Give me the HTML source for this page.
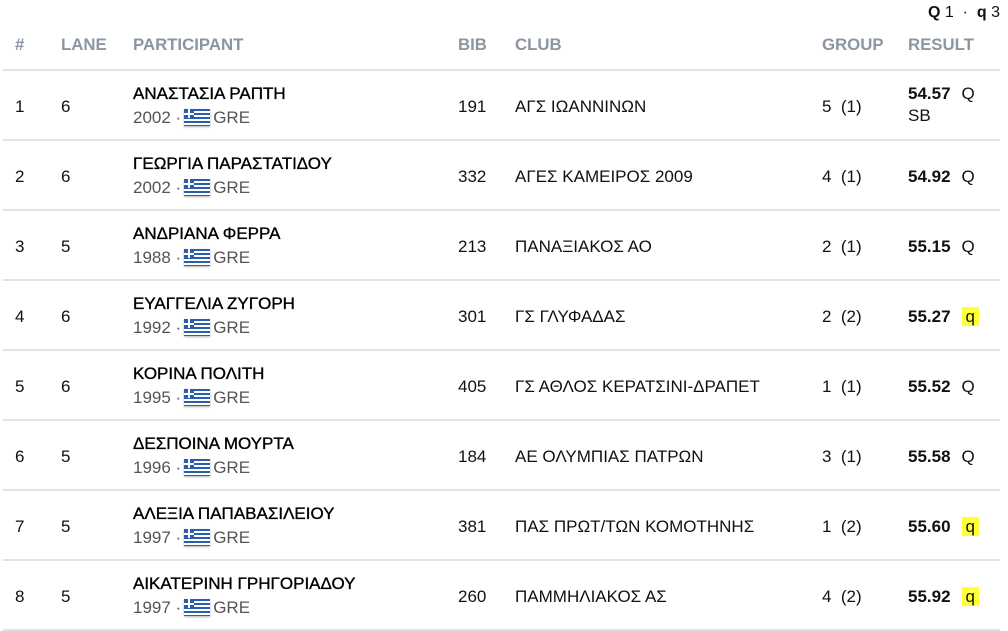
<!DOCTYPE html>
<html><head><meta charset="utf-8"><style>
body{margin:0;width:1008px;height:630px;background:#fff;font-family:"Liberation Sans",sans-serif;overflow:hidden;position:relative;color:#111}
.a{position:absolute;white-space:nowrap;line-height:20px}
.h{color:#8a96a2;font-weight:bold;font-size:16.8px;top:35px}
.l{position:absolute;left:3px;width:997px;height:2px;background:#e2e2e2}
.c{font-size:17px}
.n{font-size:17px;color:#000;-webkit-text-stroke:0.35px #000}
.s{color:#555;font-size:17px}
.f{display:inline-block;width:26px;height:17px;vertical-align:-3px;margin:0 3px;background:repeating-linear-gradient(#2a5db0 0 2px,#fff 2px 4px);position:relative;box-shadow:0 1px 2px rgba(0,0,0,.3)}
.f:before{content:"";position:absolute;left:0;top:0;width:10px;height:9px;background:#2a5db0}
.f:after{content:"";position:absolute;left:0;top:4px;width:10px;height:2px;background:#fff}
.f i{position:absolute;left:4px;top:0;width:2px;height:9px;background:#fff}
.b{font-weight:bold}
.y{background:#ffff3a;padding:0 4px}
.m{margin-left:11px}
</style></head><body>
<div class="a" style="right:8px;top:3px;font-size:16px"><b>Q</b> 1 &nbsp;·&nbsp; <b>q</b> 3</div>
<div class="a h" style="left:15px">#</div>
<div class="a h" style="left:61px">LANE</div>
<div class="a h" style="left:133px">PARTICIPANT</div>
<div class="a h" style="left:458px">BIB</div>
<div class="a h" style="left:515px">CLUB</div>
<div class="a h" style="left:822px">GROUP</div>
<div class="a h" style="left:908px">RESULT</div>
<div class="l" style="top:69px"></div>
<div id="rows"></div>
<script>
const d=[["1","6","ΑΝΑΣΤΑΣΙΑ ΡΑΠΤΗ","2002","191","ΑΓΣ ΙΩΑΝΝΙΝΩΝ","5","1","54.57","Q"],
["2","6","ΓΕΩΡΓΙΑ ΠΑΡΑΣΤΑΤΙΔΟΥ","2002","332","ΑΓΕΣ ΚΑΜΕΙΡΟΣ 2009","4","1","54.92","Q"],
["3","5","ΑΝΔΡΙΑΝΑ ΦΕΡΡΑ","1988","213","ΠΑΝΑΞΙΑΚΟΣ ΑΟ","2","1","55.15","Q"],
["4","6","ΕΥΑΓΓΕΛΙΑ ΖΥΓΟΡΗ","1992","301","ΓΣ ΓΛΥΦΑΔΑΣ","2","2","55.27","q"],
["5","6","ΚΟΡΙΝΑ ΠΟΛΙΤΗ","1995","405","ΓΣ ΑΘΛΟΣ ΚΕΡΑΤΣΙΝΙ-ΔΡΑΠΕΤ","1","1","55.52","Q"],
["6","5","ΔΕΣΠΟΙΝΑ ΜΟΥΡΤΑ","1996","184","ΑΕ ΟΛΥΜΠΙΑΣ ΠΑΤΡΩΝ","3","1","55.58","Q"],
["7","5","ΑΛΕΞΙΑ ΠΑΠΑΒΑΣΙΛΕΙΟΥ","1997","381","ΠΑΣ ΠΡΩΤ/ΤΩΝ ΚΟΜΟΤΗΝΗΣ","1","2","55.60","q"],
["8","5","ΑΙΚΑΤΕΡΙΝΗ ΓΡΗΓΟΡΙΑΔΟΥ","1997","260","ΠΑΜΜΗΛΙΑΚΟΣ ΑΣ","4","2","55.92","q"]];
let h="";
d.forEach((r,i)=>{const t=70*i+70, m=t+17;
h+=`<div class="a c" style="left:15px;top:${m+10}px">${r[0]}</div>
<div class="a c" style="left:61px;top:${m+10}px">${r[1]}</div>
<div class="a n" style="left:133px;top:${m-3}px">${r[2]}</div>
<div class="a s" style="left:133px;top:${m+21}px">${r[3]} ·<span class="f"><i></i></span>GRE</div>
<div class="a c" style="left:458px;top:${m+10}px">${r[4]}</div>
<div class="a c" style="left:515px;top:${m+10}px">${r[5]}</div>
<div class="a c" style="left:822px;top:${m+10}px">${r[6]}&nbsp; (${r[7]})</div>
<div class="a c" style="left:908px;top:${i==0?m-3:m+10}px"><span class="b">${r[8]}</span><span class="m">${r[9]=="q"?'<span class="y">q</span>':'Q'}</span></div>
${i==0?`<div class="a c" style="left:908px;top:${m+19}px">SB</div>`:""}
<div class="l" style="top:${t+69}px"></div>`;});
document.getElementById("rows").innerHTML=h;
</script>
</body></html>
